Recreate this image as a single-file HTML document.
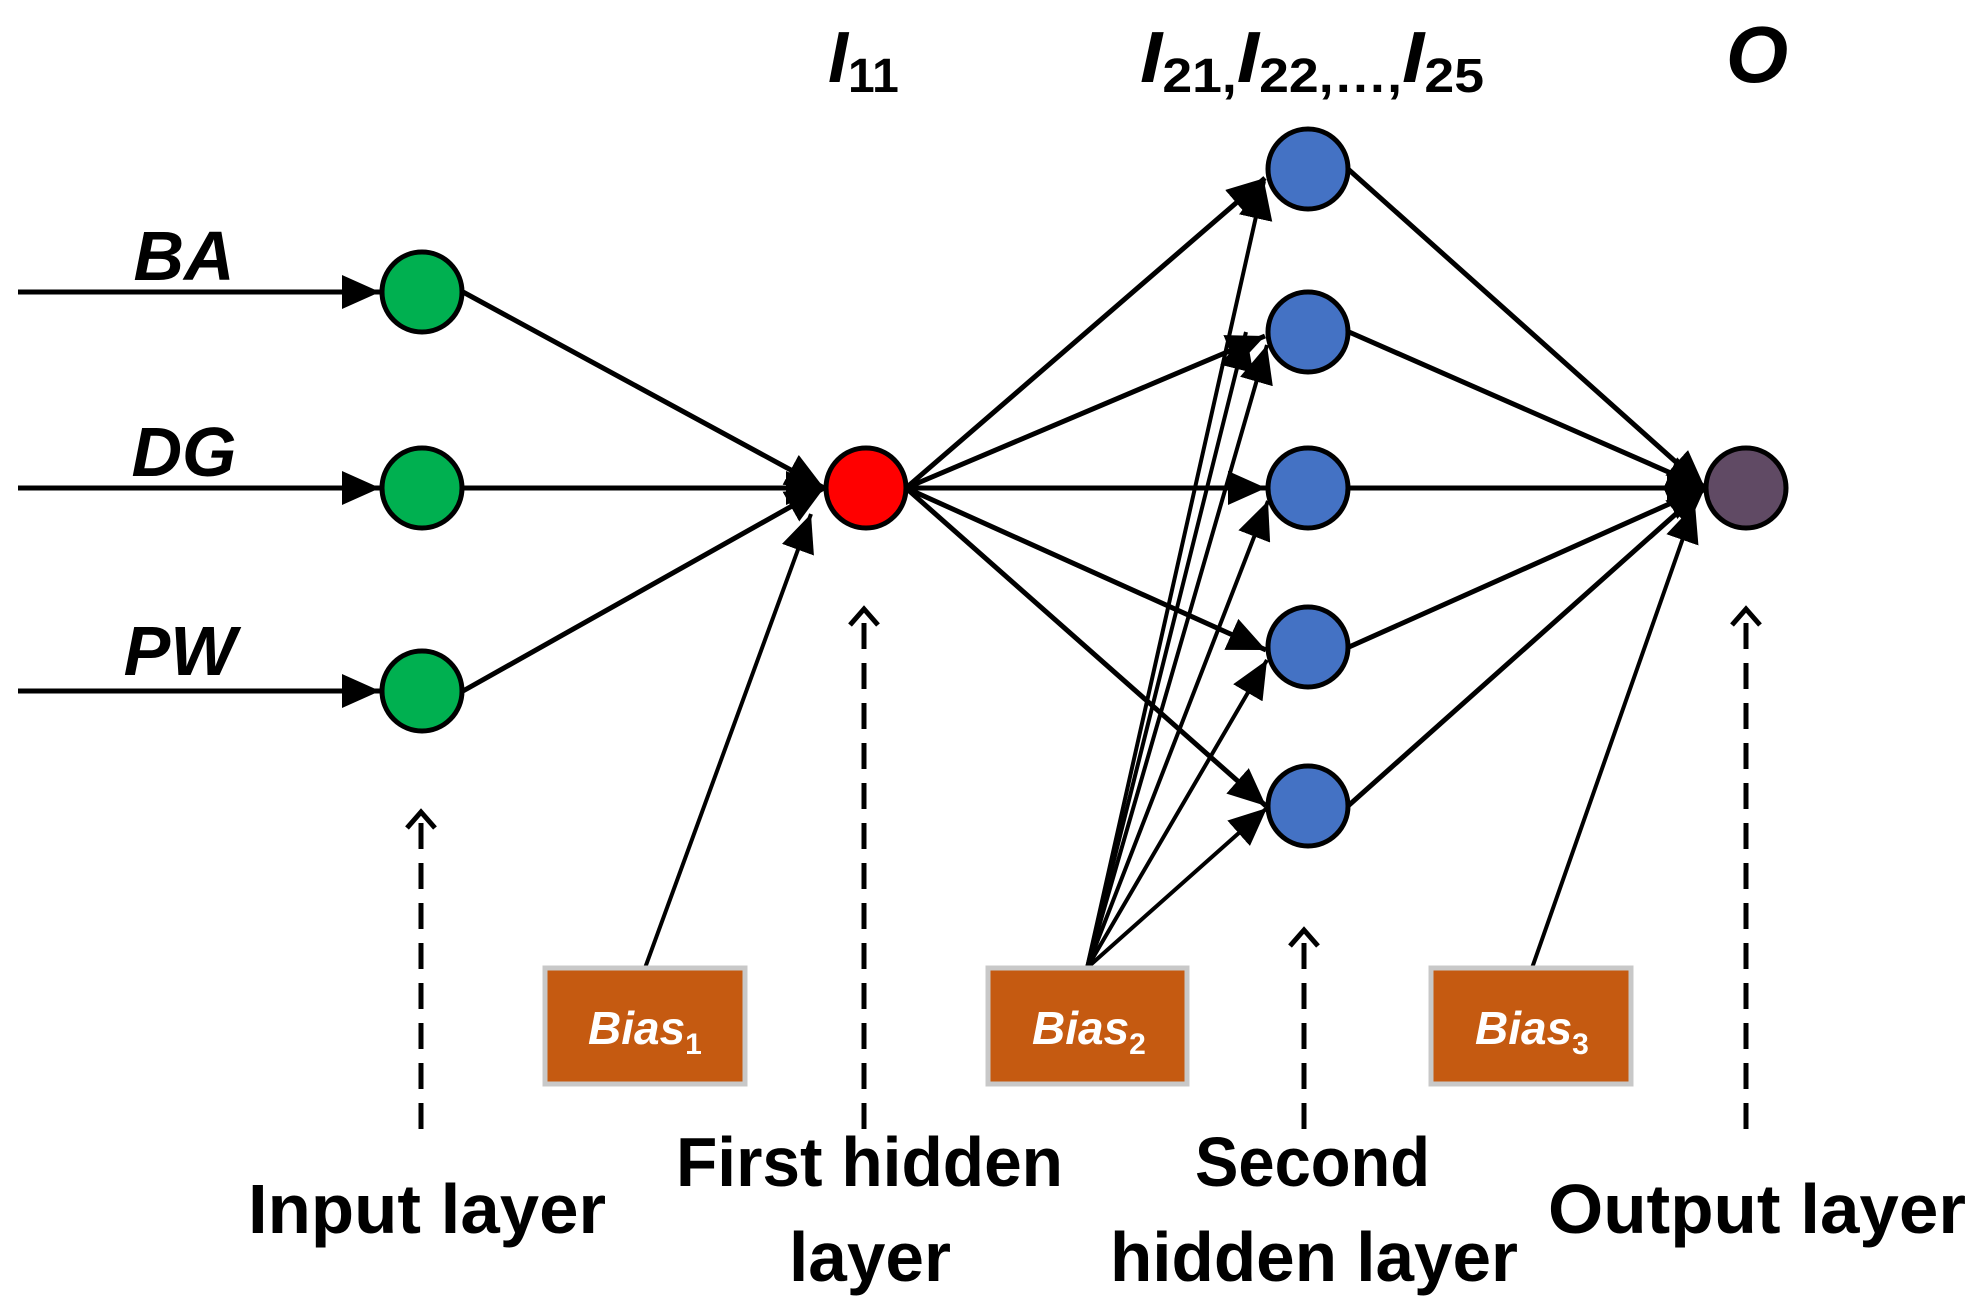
<!DOCTYPE html>
<html><head><meta charset="utf-8"><style>body{margin:0;background:#fff}svg{display:block}</style></head>
<body>
<svg width="1979" height="1306" viewBox="0 0 1979 1306" xmlns="http://www.w3.org/2000/svg" font-family="Liberation Sans, sans-serif">
<defs>
<marker id="a" markerUnits="userSpaceOnUse" markerWidth="40" markerHeight="34" refX="38" refY="17" orient="auto">
<path d="M0,0 L38,17 L0,34 z" fill="#000"/></marker>
</defs>
<g stroke="#000" stroke-width="5" fill="none" marker-end="url(#a)">
<line x1="18" y1="292" x2="380" y2="292"/>
<line x1="18" y1="488" x2="380" y2="488"/>
<line x1="18" y1="691" x2="380" y2="691"/>
<line x1="463" y1="292" x2="824" y2="488"/>
<line x1="464" y1="488" x2="824" y2="488"/>
<line x1="463" y1="691" x2="824" y2="488"/>
<line x1="645" y1="968" x2="811" y2="514" stroke-width="4"/>
<line x1="906" y1="488" x2="1265" y2="178"/>
<line x1="906" y1="488" x2="1265" y2="336"/>
<line x1="906" y1="488" x2="1266" y2="488"/>
<line x1="906" y1="488" x2="1266" y2="650"/>
<line x1="906" y1="488" x2="1266" y2="806"/>
<g stroke-width="4">
<line x1="1087" y1="968" x2="1264" y2="181"/>
<line x1="1087" y1="968" x2="1246" y2="332"/>
<line x1="1087" y1="968" x2="1267" y2="345"/>
<line x1="1087" y1="968" x2="1268" y2="501"/>
<line x1="1087" y1="968" x2="1267" y2="660"/>
<line x1="1087" y1="968" x2="1267" y2="808"/>
<line x1="1532" y1="968" x2="1695" y2="504"/>
</g>
<line x1="1348" y1="169" x2="1705" y2="488"/>
<line x1="1349" y1="332" x2="1705" y2="488"/>
<line x1="1350" y1="488" x2="1705" y2="488"/>
<line x1="1349" y1="647" x2="1705" y2="488"/>
<line x1="1348" y1="806" x2="1705" y2="488"/>
</g>
<g stroke="#000" stroke-width="5" fill="none">
<line x1="421" y1="1129" x2="421" y2="814" stroke-dasharray="26,14"/>
<path d="M407,828 L421,812 L435,828"/>
<line x1="864" y1="1129" x2="864" y2="611" stroke-dasharray="26,14"/>
<path d="M850,625 L864,609 L878,625"/>
<line x1="1304" y1="1129" x2="1304" y2="932" stroke-dasharray="26,14"/>
<path d="M1290,946 L1304,930 L1318,946"/>
<line x1="1746" y1="1129" x2="1746" y2="611" stroke-dasharray="26,14"/>
<path d="M1732,625 L1746,609 L1760,625"/>
</g>
<g stroke="#000" stroke-width="5">
<circle cx="422" cy="292" r="40" fill="#00B050"/>
<circle cx="422" cy="488" r="40" fill="#00B050"/>
<circle cx="422" cy="691" r="40" fill="#00B050"/>
<circle cx="866" cy="488" r="40" fill="#FF0000"/>
<circle cx="1308" cy="169" r="40" fill="#4472C4"/>
<circle cx="1308" cy="332" r="40" fill="#4472C4"/>
<circle cx="1308" cy="488" r="40" fill="#4472C4"/>
<circle cx="1308" cy="647" r="40" fill="#4472C4"/>
<circle cx="1308" cy="806" r="40" fill="#4472C4"/>
<circle cx="1746" cy="488" r="40" fill="#604A64"/>
</g>
<g fill="#C55A11" stroke="#C8C8C8" stroke-width="5">
<rect x="545" y="968" width="200" height="116"/>
<rect x="988" y="968" width="199" height="116"/>
<rect x="1431" y="968" width="200" height="116"/>
</g>
<g fill="#fff" font-weight="bold" font-style="italic" font-size="46">
<text x="588" y="1044">Bias<tspan font-style="normal" font-size="30" dy="10">1</tspan></text>
<text x="1032" y="1044">Bias<tspan font-style="normal" font-size="30" dy="10">2</tspan></text>
<text x="1475" y="1044">Bias<tspan font-style="normal" font-size="30" dy="10">3</tspan></text>
</g>
<g font-weight="bold" font-style="italic" font-size="70" text-anchor="middle">
<text x="184" y="280">BA</text>
<text x="184" y="476">DG</text>
<text x="180" y="675">PW</text>
<text x="1757" y="82" font-size="80">O</text>
</g>
<g font-weight="bold" font-size="72">
<text x="828" y="82" font-style="italic">I<tspan font-style="normal" font-size="48" dy="10">11</tspan></text>
<text x="1140" y="82" textLength="344" lengthAdjust="spacingAndGlyphs"><tspan font-style="italic">I</tspan><tspan font-size="48" dy="10">21,</tspan><tspan font-style="italic" dy="-10">I</tspan><tspan font-size="48" dy="10">22,…,</tspan><tspan font-style="italic" dy="-10">I</tspan><tspan font-size="48" dy="10">25</tspan></text>
</g>
<g font-weight="bold" font-size="70">
<text x="248" y="1233" textLength="358" lengthAdjust="spacingAndGlyphs">Input layer</text>
<text x="676" y="1186" textLength="387" lengthAdjust="spacingAndGlyphs">First hidden</text>
<text x="789" y="1281" textLength="162" lengthAdjust="spacingAndGlyphs">layer</text>
<text x="1195" y="1186" textLength="235" lengthAdjust="spacingAndGlyphs">Second</text>
<text x="1110" y="1281" textLength="408" lengthAdjust="spacingAndGlyphs">hidden layer</text>
<text x="1548" y="1233" textLength="418" lengthAdjust="spacingAndGlyphs">Output layer</text>
</g>
</svg>
</body></html>
